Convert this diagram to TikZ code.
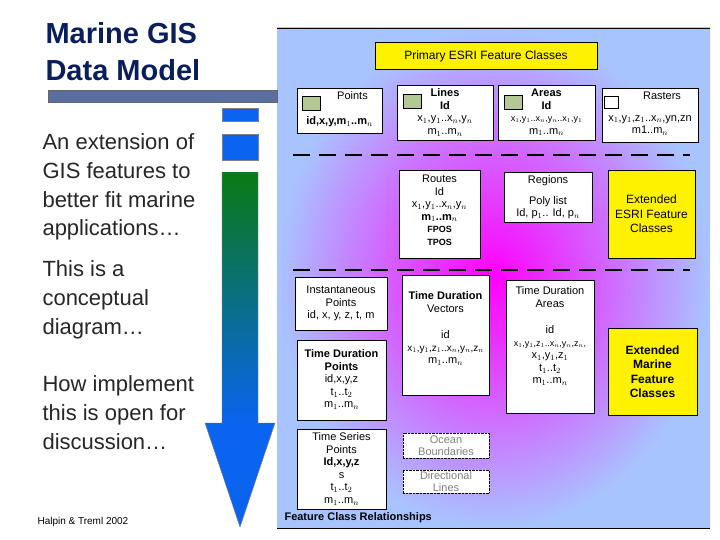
\documentclass[tikz,border=0pt]{standalone}
\usepackage{fontspec}
\setmainfont{Liberation Sans}
\usetikzlibrary{shadings}
\definecolor{navy}{HTML}{0A1E5C}
\definecolor{barblue}{HTML}{5A6EA0}
\definecolor{arrblue}{HTML}{0A64F0}
\definecolor{arrgreen}{HTML}{0A7A14}
\definecolor{panelblue}{HTML}{A8C4FF}
\definecolor{iconsage}{HTML}{B4C896}
\begin{document}
\begin{tikzpicture}[x=1pt,y=-1pt,
  fbox/.style={draw,fill=white,inner sep=0pt},
  ftext/.style={anchor=north,align=center,inner sep=2pt,font=\fontsize{11}{12.5}\selectfont},
  ybox/.style={draw,fill=yellow,inner sep=0pt,align=center,font=\fontsize{12}{14.5}\selectfont},
  gbox/.style={draw,densely dotted,fill=white,inner sep=0pt,text=gray,align=center,font=\fontsize{11}{12.5}\selectfont},
  sidetext/.style={anchor=north west,align=left,font=\fontsize{22}{28.8}\selectfont,text=black!85},
  icon/.style={draw,fill=iconsage,minimum width=18pt,minimum height=14pt,inner sep=0pt},
  divider/.style={line width=1.6pt,dash pattern=on 17pt off 9pt}]
\useasboundingbox (0,0) rectangle (720,540);
% panel
\fill[panelblue] (277,28) rectangle (710,528);
\shade[inner color=magenta,outer color=panelblue] (277,28) rectangle (710,528);
\draw (277,28) -- (710,28);
\draw (277,528) -- (710,528);
% title
\node[anchor=north west,align=left,text=navy,font=\bfseries\fontsize{29}{37}\selectfont] (title) at (42,19) {Marine GIS\\Data Model};
\fill[barblue] (48,90) rectangle (277,102);
\draw[black!60] (48,90) rectangle (277,102);
\node[sidetext] (t1) at (39,130) {An extension of\\GIS features to\\better fit marine\\applications\ldots};
\node[sidetext] (t2) at (39,257) {This is a\\conceptual\\diagram\ldots};
\node[sidetext] (t3) at (39,372) {How implement\\this is open for\\discussion\ldots};
\node[anchor=west,font=\fontsize{10}{12}\selectfont] (cite) at (34,522) {Halpin \& Treml 2002};
% arrow
\fill[arrblue] (222,108) rectangle (258,121);
\fill[arrblue] (222,134) rectangle (258,160);
\draw[black!50] (222,108) rectangle (258,121) (222,134) rectangle (258,160);
\shade[top color=arrgreen,bottom color=arrblue] (222,173) rectangle (258,423);
\fill[arrblue] (205,423) -- (275,423) -- (240,527) -- cycle;
\draw[black!50] (222,173) -- (222,423) -- (205,423) -- (240,527) -- (275,423) -- (258,423) -- (258,173) -- cycle;
% esri classes
\node[ybox,minimum width=222pt,minimum height=27pt] (primary) at (486,56) {Primary ESRI Feature Classes};
\node[fbox,minimum width=85pt,minimum height=45pt] (points) at (339.5,110.5) {};
\node[ftext,inner sep=4pt] at (points.north) {\hspace*{26pt}Points\\[12pt]\textbf{id,x,y,m$_1$..m$_n$}};
\node[fbox,minimum width=96pt,minimum height=55pt] (lines) at (445,112.5) {};
\node[ftext,inner sep=4pt] at (lines.north) {\textbf{Lines}\\\textbf{Id}\\x$_1$,y$_1$..x$_n$,y$_n$\\m$_1$..m$_n$};
\node[fbox,minimum width=97pt,minimum height=55pt] (areas) at (546.5,112.5) {};
\node[ftext,inner sep=4pt] at (areas.north) {\textbf{Areas}\\\textbf{Id}\\{\fontsize{9}{11}\selectfont x$_1$,y$_1$..x$_n$,y$_n$..x$_1$,y$_1$}\\m$_1$..m$_n$};
\node[fbox,minimum width=96pt,minimum height=54pt] (rasters) at (650,115) {};
\node[ftext,inner sep=4pt] at (rasters.north) {\hspace*{24pt}Rasters\\[9pt]x$_1$,y$_1$,z$_1$..x$_n$,yn,zn\\m1..m$_n$};
\node[icon] (ptsicon) at (311,103) {};
\node[icon] (lnsicon) at (412,101) {};
\node[icon] (arsicon) at (513,102) {};
\node[draw,fill=white,minimum width=14pt,minimum height=12pt,inner sep=0pt] (rasicon) at (611,102) {};
\draw[divider] (293,155) -- (690,155);
\node[fbox,minimum width=81pt,minimum height=88pt] (routes) at (439.5,214) {};
\node[ftext,inner sep=5pt] at (routes.north) {Routes\\Id\\x$_1$,y$_1$..x$_n$,y$_n$\\\textbf{m$_1$..m$_n$}\\\textbf{\small FPOS}\\\textbf{\small TPOS}};
\node[fbox,minimum width=88pt,minimum height=50pt] (regions) at (548,197) {};
\node[ftext,inner sep=4pt] at (regions.north) {Regions\\[8pt]Poly list\\Id, p$_1$.. Id, p$_n$};
\node[ybox,minimum width=87pt,minimum height=88pt] (extesri) at (651.5,214) {Extended\\ESRI Feature\\Classes};
\draw[divider] (293,270) -- (690,270);
% marine classes
\node[fbox,minimum width=92pt,minimum height=53pt] (instpts) at (341,303.5) {};
\node[ftext,inner sep=9pt] at (instpts.north) {Instantaneous\\Points\\id, x, y, z, t, m};
\node[fbox,minimum width=87pt,minimum height=120pt] (tdvec) at (445.5,335) {};
\node[ftext,inner sep=17pt] at (tdvec.north) {\textbf{Time Duration}\\Vectors\\[14pt]id\\{\fontsize{10}{12}\selectfont x$_1$,y$_1$,z$_1$..x$_n$,y$_n$,z$_n$}\\m$_1$..m$_n$};
\node[fbox,minimum width=88pt,minimum height=133pt] (tdareas) at (550,346.5) {};
\node[ftext,inner sep=7pt] at (tdareas.north) {Time Duration\\Areas\\[14pt]id\\{\fontsize{9}{11}\selectfont x$_1$,y$_1$,z$_1$..x$_n$,y$_n$,z$_n$,}\\x$_1$,y$_1$,z$_1$\\t$_1$..t$_2$\\m$_1$..m$_n$};
\node[ybox,minimum width=89pt,minimum height=87pt,font=\bfseries\fontsize{12}{14.5}\selectfont] (extmar) at (652.5,371.5) {Extended\\Marine\\Feature\\Classes};
\node[fbox,minimum width=89pt,minimum height=80pt] (tdpts) at (341.5,380) {};
\node[ftext,inner sep=10pt] at (tdpts.north) {\textbf{Time Duration}\\\textbf{Points}\\id,x,y,z\\t$_1$..t$_2$\\m$_1$..m$_n$};
\node[fbox,minimum width=89pt,minimum height=80pt] (tspts) at (341.5,469) {};
\node[ftext,inner sep=4pt] at (tspts.north) {Time Series\\Points\\\textbf{Id,x,y,z}\\s\\t$_1$..t$_2$\\m$_1$..m$_n$};
\node[gbox,minimum width=86pt,minimum height=25pt] (ocean) at (446,445.5) {Ocean\\Boundaries};
\node[gbox,minimum width=86pt,minimum height=23pt] (dirlines) at (446,481.5) {Directional\\Lines};
\node[anchor=west,font=\bfseries\fontsize{11}{13}\selectfont] (fcr) at (281,518) {Feature Class Relationships};
\end{tikzpicture}
\end{document}
